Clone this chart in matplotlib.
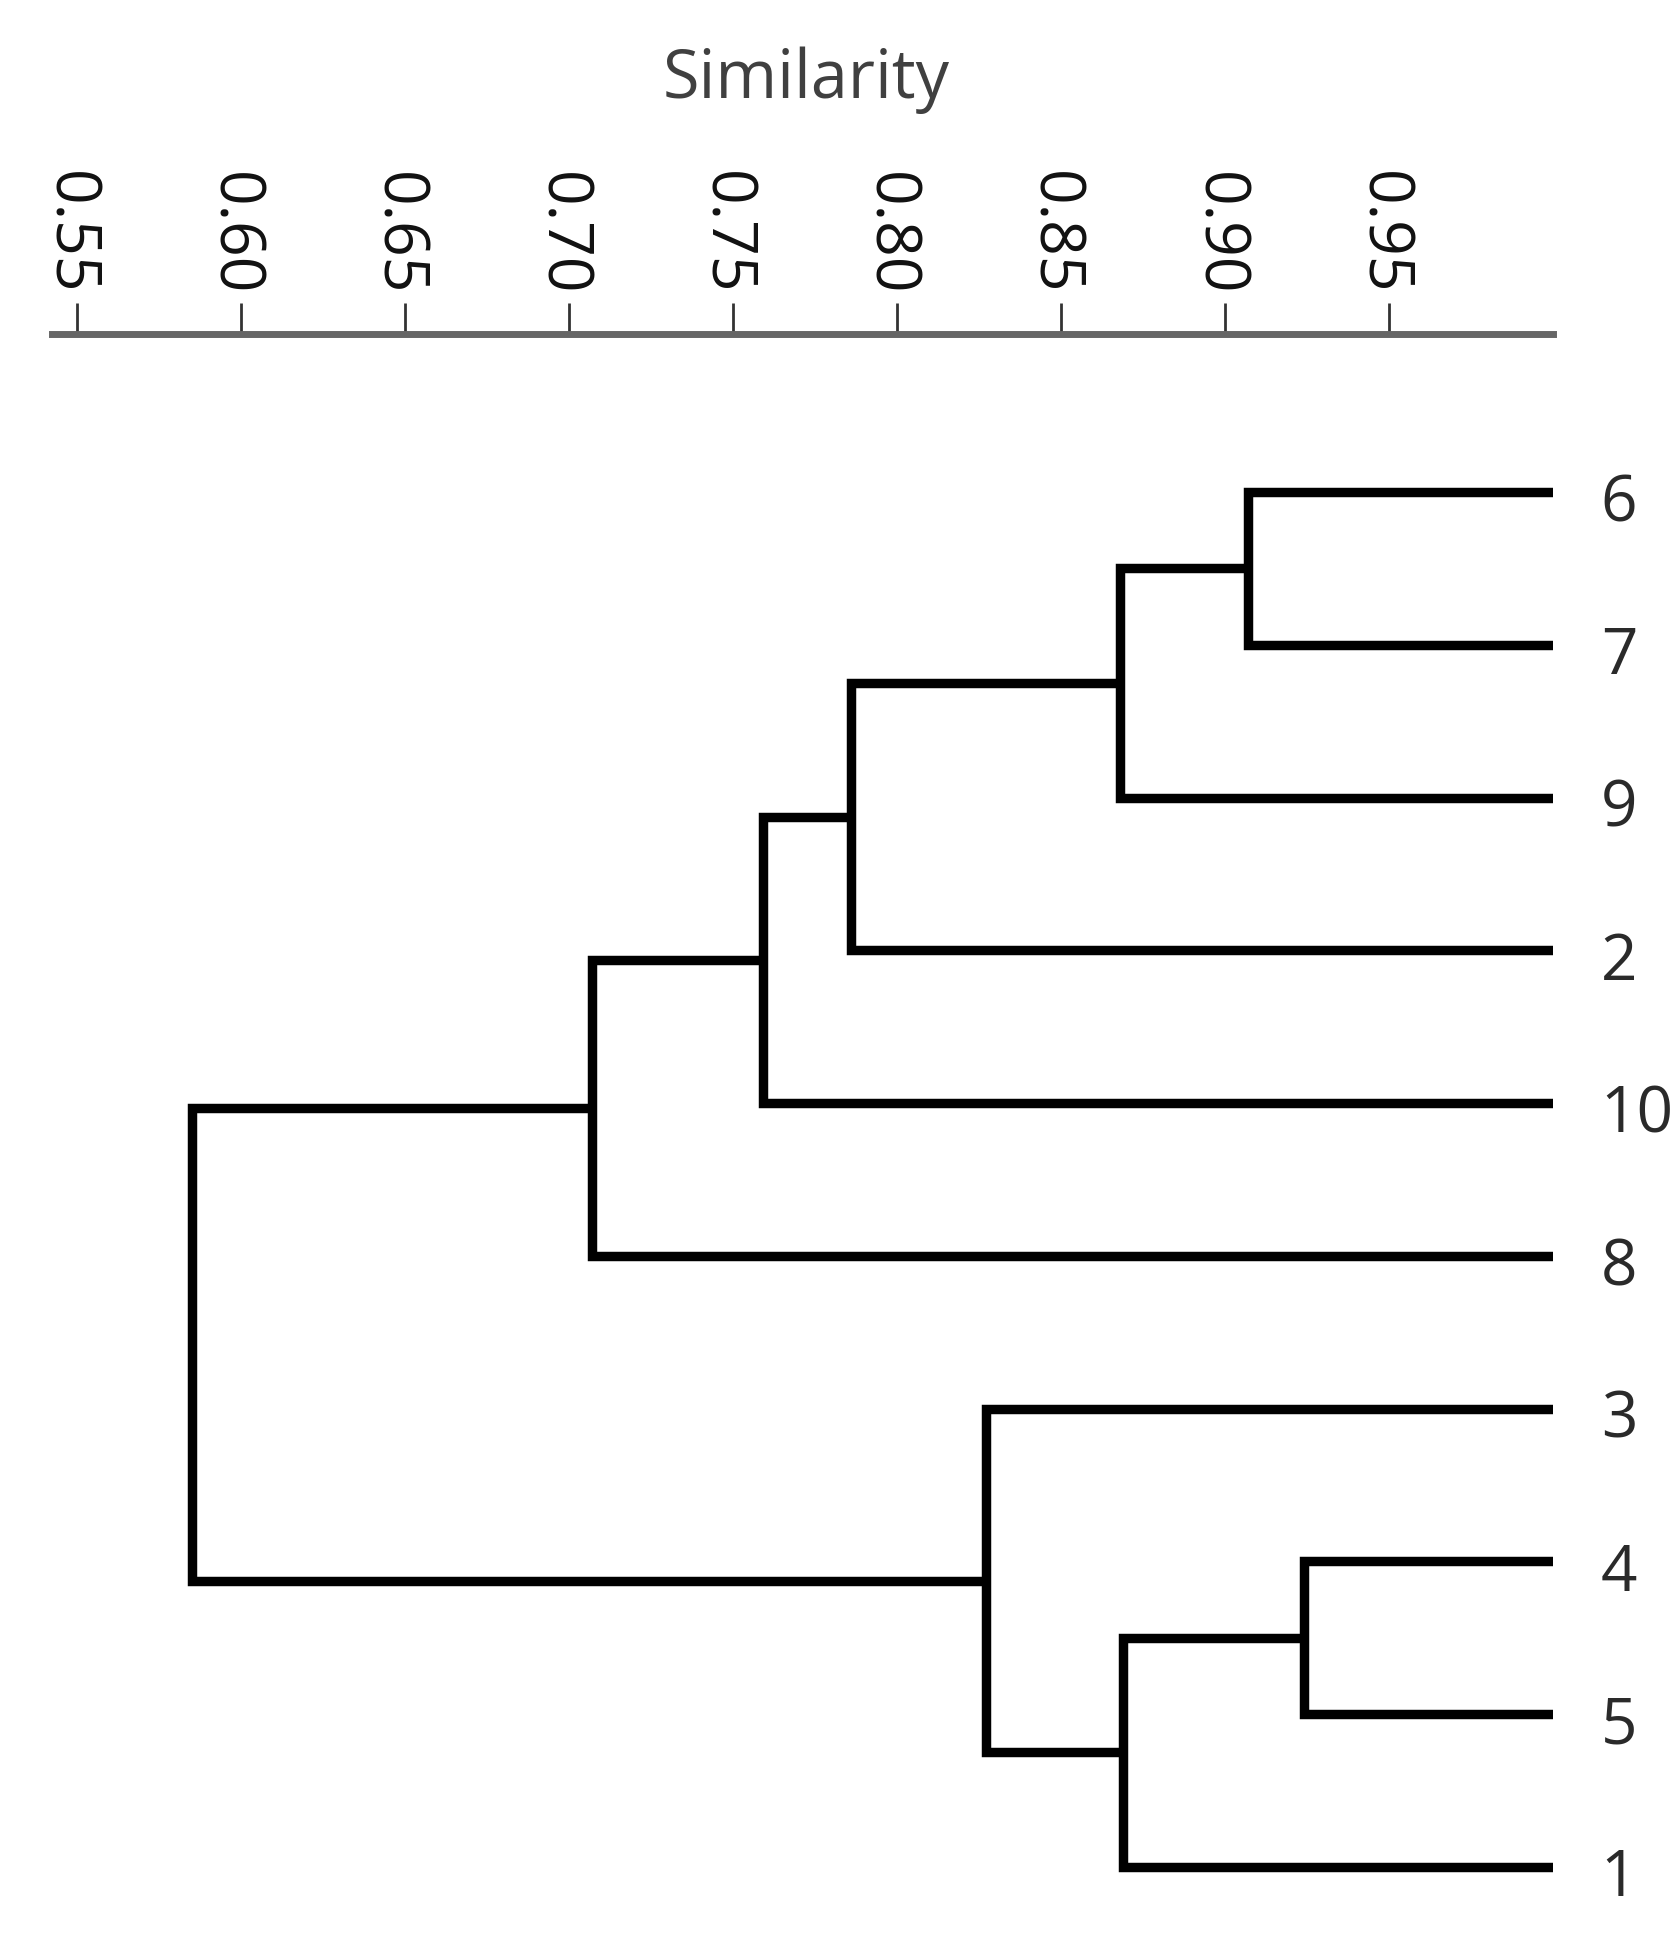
import matplotlib.pyplot as plt
import matplotlib.transforms as mtransforms

plt.rcParams['font.family'] = ['Open Sans', 'DejaVu Sans']

# leaf order from top to bottom
leaves = ['6', '7', '9', '2', '10', '8', '3', '4', '5', '1']

# merges: (left node, right node, similarity); nodes are leaf labels or merge ids 'm0', 'm1', ...
merges = [
    ('6', '7', 0.907),
    ('m0', '9', 0.868),
    ('m1', '2', 0.786),
    ('m2', '10', 0.759),
    ('m3', '8', 0.707),
    ('4', '5', 0.924),
    ('m5', '1', 0.869),
    ('3', 'm6', 0.827),
    ('m4', 'm7', 0.585),
]

ticks = [0.55, 0.60, 0.65, 0.70, 0.75, 0.80, 0.85, 0.90, 0.95]
leaf_sim = 1.0

fig = plt.figure(figsize=(16.8, 19.52), dpi=100)
ax = fig.add_axes([0.031, 0.0, 0.8935, 0.8289])

pos = {}
for i, name in enumerate(leaves):
    pos[name] = (leaf_sim, i)

lw = 6.8
for k, (a, b, s) in enumerate(merges):
    xa, ya = pos[a]
    xb, yb = pos[b]
    ax.plot([xa, s, s, xb], [ya, ya, yb, yb], color='black', lw=lw,
            solid_joinstyle='miter', solid_capstyle='butt')
    pos['m%d' % k] = (s, (ya + yb) / 2)

for i, name in enumerate(leaves):
    ax.text(1.0 + 0.0145, i + 0.08, name, fontsize=46, color='#2a2a2a',
            ha='left', va='center', clip_on=False)

ax.set_xlim(0.5424, 1.0)
ax.set_ylim(9.556, -1.034)

for side in ['bottom', 'left', 'right']:
    ax.spines[side].set_visible(False)
ax.spines['top'].set_color('#666666')
ax.spines['top'].set_linewidth(5)

ax.xaxis.tick_top()
ax.set_xticks(ticks)
ax.set_xticklabels(['%.2f' % t for t in ticks], rotation=-90, fontsize=45,
                   color='#111111')
ax.tick_params(axis='x', direction='out', length=22, width=2, pad=6,
               color='#333333')
ax.set_yticks([])

shift = mtransforms.ScaledTranslation(-8 / 100, 0, fig.dpi_scale_trans)
for lab in ax.get_xticklabels():
    lab.set_transform(lab.get_transform() + shift)

fig.text(806 / 1680, 1 - 80 / 1952, 'Similarity', fontsize=48, color='#404040',
         ha='center', va='center')

fig.savefig('out.png', dpi=100)
